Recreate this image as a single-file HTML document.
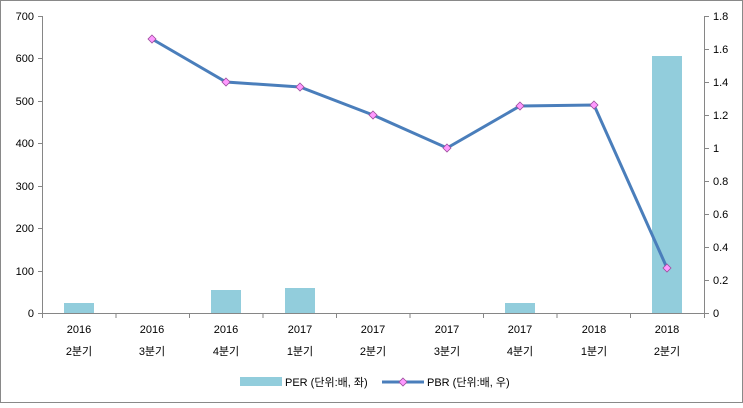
<!DOCTYPE html>
<html><head><meta charset="utf-8"><style>
body{margin:0;background:#fff}
svg text{font-family:"Liberation Sans","Noto Sans CJK KR",sans-serif;font-size:11px;fill:#000}
</style></head><body>
<svg width="743" height="403" xmlns="http://www.w3.org/2000/svg">
<rect x="0.5" y="0.5" width="742" height="402" fill="#fff" stroke="#898989"/>
<!-- bars -->
<g fill="#92cddc">
<rect x="64" y="303" width="30" height="10"/>
<rect x="211" y="290" width="30" height="23"/>
<rect x="285" y="288" width="30" height="25"/>
<rect x="505" y="303" width="30" height="10"/>
<rect x="652" y="56" width="30" height="257"/>
</g>
<!-- axes -->
<g stroke="#868686" stroke-width="1" fill="none">
<line x1="42.5" y1="16" x2="42.5" y2="313"/>
<line x1="704.5" y1="16" x2="704.5" y2="313"/>
<line x1="42" y1="313.5" x2="705" y2="313.5"/>
<path d="M38 16.5H42M38 58.5H42M38 101.5H42M38 143.5H42M38 186.5H42M38 228.5H42M38 271.5H42M38 313.5H42"/>
<path d="M705 16.5H709M705 49.5H709M705 82.5H709M705 115.5H709M705 148.5H709M705 181.5H709M705 214.5H709M705 247.5H709M705 280.5H709M705 313.5H709"/>
<path d="M42.5 313V318M116 313V318M189.5 313V318M263 313V318M336.5 313V318M410 313V318M483.5 313V318M557 313V318M630.5 313V318M704.5 313V318"/>
</g>
<g text-anchor="end">
<text x="34" y="20">700</text><text x="34" y="62">600</text><text x="34" y="105">500</text><text x="34" y="147">400</text><text x="34" y="190">300</text><text x="34" y="232">200</text><text x="34" y="275">100</text><text x="34" y="317">0</text>
</g>
<g text-anchor="start">
<text x="713" y="20">1.8</text><text x="713" y="53">1.6</text><text x="713" y="86">1.4</text><text x="713" y="119">1.2</text><text x="713" y="152">1</text><text x="713" y="185">0.8</text><text x="713" y="218">0.6</text><text x="713" y="251">0.4</text><text x="713" y="284">0.2</text><text x="713" y="317">0</text>
</g>
<g text-anchor="middle">
<text x="79" y="333">2016</text><text x="79" y="355">2분기</text>
<text x="152" y="333">2016</text><text x="152" y="355">3분기</text>
<text x="226" y="333">2016</text><text x="226" y="355">4분기</text>
<text x="300" y="333">2017</text><text x="300" y="355">1분기</text>
<text x="373" y="333">2017</text><text x="373" y="355">2분기</text>
<text x="447" y="333">2017</text><text x="447" y="355">3분기</text>
<text x="520" y="333">2017</text><text x="520" y="355">4분기</text>
<text x="594" y="333">2018</text><text x="594" y="355">1분기</text>
<text x="667" y="333">2018</text><text x="667" y="355">2분기</text>
</g>
<polyline points="152,39 226,82 300,87 373,115 447,148 520,106 594,105 667,268" fill="none" stroke="#4a7ebb" stroke-width="3"/>
<g fill="#ff99ff" stroke="#9b4d9b" stroke-width="0.8">
<path d="M152 35l4 4-4 4-4-4z"/><path d="M226 78l4 4-4 4-4-4z"/><path d="M300 83l4 4-4 4-4-4z"/><path d="M373 111l4 4-4 4-4-4z"/><path d="M447 144l4 4-4 4-4-4z"/><path d="M520 102l4 4-4 4-4-4z"/><path d="M594 101l4 4-4 4-4-4z"/><path d="M667 264l4 4-4 4-4-4z"/>
</g>
<!-- legend -->
<rect x="240" y="377" width="42" height="9" fill="#92cddc"/>
<text x="285" y="386">PER (단위:배, 좌)</text>
<line x1="382" y1="382" x2="424" y2="382" stroke="#4a7ebb" stroke-width="3"/>
<path d="M403 378l4 4-4 4-4-4z" fill="#ff99ff" stroke="#9b4d9b" stroke-width="0.8"/>
<text x="427" y="386">PBR (단위:배, 우)</text>
</svg>
</body></html>
